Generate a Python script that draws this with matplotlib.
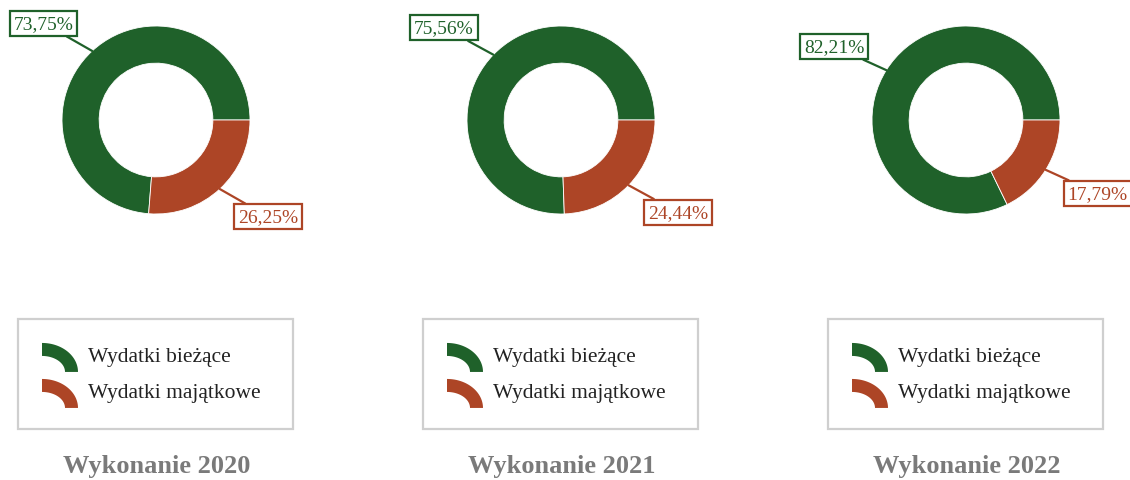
import numpy as np
import matplotlib
matplotlib.use("Agg")
import matplotlib.pyplot as plt
from matplotlib.patches import Polygon, Patch, Rectangle
from matplotlib.legend_handler import HandlerPatch

plt.rcParams['font.family'] = ['Liberation Serif', 'DejaVu Serif']

years = ['2020', '2021', '2022']
biezace = [73.75, 75.56, 82.21]
majatkowe = [26.25, 24.44, 17.79]
labels = ['Wydatki bieżące', 'Wydatki majątkowe']
colors = ['#1f612a', '#ad4526']

W, H = 1130, 481
fig = plt.figure(figsize=(W / 100, H / 100), dpi=100)

R = 94.0          # outer radius in px
cy = 121.0        # donut centre y (px from top)
centers = [156, 561, 966]


def fx(x):
    return x / W


def fy(y):
    return 1 - y / H


class ArcHandler(HandlerPatch):
    # quarter ring used as legend key
    def create_artists(self, legend, orig_handle, xdescent, ydescent,
                       width, height, fontsize, trans):
        k = 0.72  # px -> pt
        t = np.linspace(0, np.pi / 2, 30)
        rx, ry, th = 36 * k, 29 * k, 13 * k
        x0, y0 = -xdescent, -11 * k
        outer = np.column_stack([x0 + rx * np.cos(t), y0 + ry * np.sin(t)])
        inner = np.column_stack([x0 + (rx - th) * np.cos(t[::-1]),
                                 y0 + (ry - th) * np.sin(t[::-1])])
        p = Polygon(np.vstack([outer, inner]), closed=True,
                    facecolor=orig_handle.get_facecolor(), edgecolor='none',
                    transform=trans)
        return [p]


for i, yr in enumerate(years):
    cx = centers[i]
    ax = fig.add_axes([fx(cx - 200), fy(300), 400 / W, 300 / H])
    vals = [biezace[i], majatkowe[i]]
    ax.pie(vals, colors=colors, radius=1, startangle=0, counterclock=True,
           wedgeprops=dict(width=0.395, edgecolor='white', linewidth=0.6))
    ax.set_xlim(-200 / R, 200 / R)
    ax.set_ylim(-(300 - cy) / R, cy / R)
    ax.set_aspect('equal')
    ax.axis('off')

    start = 0.0
    bw, bh = 70 / R, 26 / R
    for v, c in zip(vals, colors):
        mid = np.deg2rad(start + v * 3.6 / 2)
        start += v * 3.6
        ex, ey = np.cos(mid), np.sin(mid)
        kx, ky = 1.213 * ex, 1.213 * ey
        tx = kx + np.sign(ex) * bw / 2
        ty = ky + np.sign(ey) * bh / 2
        txt = f'{v:.2f}%'.replace('.', ',')
        ax.annotate(txt, xy=(ex, ey), xytext=(tx, ty), ha='center', va='center',
                    fontsize=14, color=c, annotation_clip=False,
                    bbox=dict(boxstyle='square,pad=0.2', fc='white', ec=c, lw=1.6),
                    arrowprops=dict(arrowstyle='-', color=c, lw=1.6,
                                    shrinkA=0, shrinkB=0))

    # legend frame
    fig.add_artist(Rectangle((fx(cx - 138), fy(430)), 275 / W, 110 / H,
                             transform=fig.transFigure, fill=False,
                             ec='#cfcfcf', lw=1.6))
    handles = [Patch(facecolor=c) for c in colors]
    fig.legend(handles, labels, loc='upper left',
               bbox_to_anchor=(fx(cx - 114), fy(343)),
               bbox_transform=fig.transFigure, frameon=False,
               fontsize=15.5, handlelength=1.67, handleheight=1.3,
               handletextpad=0.47, labelspacing=0.56, borderpad=0,
               borderaxespad=0, labelcolor='#222222',
               handler_map={Patch: ArcHandler()})

    fig.text(fx(cx + 1), fy(467), f'Wykonanie {yr}', ha='center', va='center',
             fontsize=19, fontweight='bold', color='#7a7a7a')

fig.savefig('out.png', dpi=100)
